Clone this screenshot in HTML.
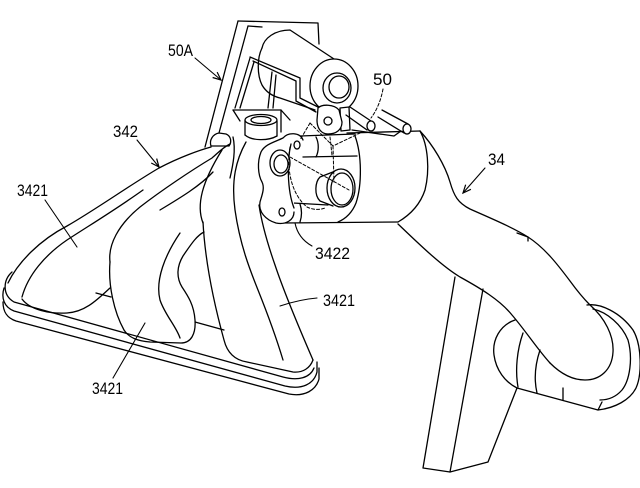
<!DOCTYPE html>
<html><head><meta charset="utf-8"><style>
html,body{margin:0;padding:0;background:#fff;}
svg{display:block;}
text{font-family:"Liberation Sans",sans-serif;font-size:17px;fill:#000;stroke:none;}
</style></head><body>
<svg width="640" height="488" viewBox="0 0 640 488" xmlns="http://www.w3.org/2000/svg">
<defs>
<marker id="ah" markerUnits="userSpaceOnUse" viewBox="-10 -6 12 12" refX="0" refY="0" markerWidth="12" markerHeight="12" orient="auto"><path d="M-8,-3.5 L0,0 L-8,3.5" fill="none" stroke="#000" stroke-width="1.2"/></marker>
</defs>
<rect width="640" height="488" fill="#fff"/>
<g fill="none" stroke="#000" stroke-width="1.3" stroke-linejoin="round" stroke-linecap="round">
<!-- lower bracket plate -->
<path d="M455,277 L423,468 L450,472 L488,462 L517,388"/>
<path d="M483,289 L450,472"/>
<!-- elbow boss -->
<path d="M515,320 C500,325 492,340 494,355 C496,370 505,382 517,388 L598,410 L602,402"/>
<path d="M523,333 C517,350 515,370 518,387"/>
<path d="M540,350 C535,365 534,380 537,393"/>
<path d="M563,388 L563,400"/>
<!-- ring -->
<path d="M587,305 C600,303 620,312 633,330 C642,345 642,375 636,388 C630,400 615,408 598,410"/>
<path d="M593,309 C607,312 622,325 628,340 C633,358 630,380 622,390 C615,398 607,400 600,400"/>
<!-- pipe 34 -->
<path d="M420,131 C433,145 445,165 450,182 C454,196 458,203 470,209 C490,218 512,227 528,237 C545,248 558,265 570,281 C578,292 583,298 590,305 C605,318 614,336 613,352 C612,370 600,380 585,380 C572,380 560,373 550,363"/>
<path d="M398,224 C415,240 440,265 460,277 C480,288 500,300 512,315 C525,330 538,350 550,363"/>
<path d="M517,233 L528,237 L528,241"/>
<!-- housing -->
<path d="M347,133 L420,131"/>
<path d="M420,131 C428,145 430,170 425,190 C420,205 410,215 398,222"/>
<path d="M283,223 L398,222"/>
<path d="M355,136 C362,155 362,185 356,203 C352,213 345,219 338,222"/>
<!-- upper / lower cylinders -->
<path d="M300,136 L355,134"/>
<path d="M303,157 L357,156"/>
<path d="M316,137 C319,143 319,151 316,157"/>
<path d="M293,203 L328,205"/>
<path d="M300,204 C302,210 302,216 300,222"/>
<!-- nozzle -->
<path d="M338,170 L320,177 C315,182 314,195 320,201 L333,206"/>
<ellipse cx="341" cy="188" rx="14" ry="19" fill="#fff"/>
<ellipse cx="342" cy="189" rx="11" ry="16"/>
<!-- turbine flange plate -->
<path fill="#fff" d="M303,140 C300,132 288,132 283,138 C275,142 265,144 261,152 C257,162 258,175 262,182 C265,188 262,195 260,202 C258,212 266,220 276,223 C286,225 294,220 294,212 L294,150 Z" stroke="none"/>
<path d="M303,140 C300,132 288,132 283,138 C275,142 265,144 261,152 C257,162 258,175 262,182 C265,188 262,195 260,202 C258,212 266,220 276,223 C286,225 294,220 294,212"/>
<path d="M291,144 C287,160 287,190 294,208"/>
<ellipse cx="280" cy="163" rx="10" ry="13" fill="#fff"/>
<ellipse cx="281" cy="164" rx="7" ry="9"/>
<ellipse cx="297" cy="145" rx="3" ry="4"/>
<ellipse cx="282" cy="212" rx="3" ry="4"/>
<!-- dashed hidden lines -->
<g stroke-width="1" stroke-dasharray="3,2">
<path d="M383,89 C381,100 377,110 371,118"/>
<path d="M310,123 L333,146 L360,133"/>
<path d="M333,146 L334,182"/>
<path d="M290,157 L349,190"/>
<path d="M310,123 L300,140"/>
<path d="M290,147 C286,170 292,195 307,207 C313,210 320,210 325,208"/>
<path d="M330,137 L332,155"/>
</g>
<!-- plate 50A -->
<path d="M238,21 L318,23 L319,44"/>
<path d="M238,21 L205,147"/>
<path d="M248,26 L219,133"/>
<path d="M248,26 L262,27"/>
<!-- actuator cylinder -->
<path d="M262,48 C264,38 275,30 290,30 L334,59"/>
<path d="M262,48 C257,58 257,75 262,85 C266,92 272,96 280,98 L315,110"/>
<ellipse cx="334" cy="86" rx="24" ry="27" fill="#fff"/>
<ellipse cx="337" cy="88" rx="14" ry="15"/>
<ellipse cx="339" cy="87" rx="10" ry="11"/>
<!-- bracket link -->
<path d="M250,57 L300,78 L300,98 L320,108"/>
<path d="M253,61 L296,81 L296,101 L316,112"/>
<path d="M250,58 L235,108"/>
<path d="M254,62 L240,108"/>
<path d="M272,72 L268,108"/>
<path d="M276,75 L273,108"/>
<path fill="#fff" d="M340,108 L349,107 L350,130 L341,131 Z"/>
<path fill="#fff" d="M318,108 C322,104 334,104 339,110 L342,122 C342,130 336,134 328,134 C321,134 317,128 317,120 Z"/>
<circle cx="328" cy="121" r="4"/>
<!-- pins -->
<path d="M350,107 L371,121"/>
<path d="M346,115 L367,130"/>
<ellipse cx="371" cy="126" rx="4" ry="5" fill="#fff"/>
<path d="M382,110 L408,124"/>
<path d="M378,117 L404,133"/>
<ellipse cx="407" cy="129" rx="4" ry="5" fill="#fff"/>
<path d="M352,130 L394,136 L401,131"/>
<!-- platform & collar -->
<path d="M233,110 L281,110 L290,120"/>
<path d="M233,110 L240,121"/>
<path d="M281,110 L281,132"/>
<path d="M245,120 L245,135"/>
<path d="M277,121 L277,136"/>
<path d="M245,135 C252,141 268,141 277,136"/>
<ellipse cx="261" cy="120" rx="16" ry="5.5" fill="#fff"/>
<ellipse cx="261" cy="120" rx="10" ry="3.5"/>
<path fill="#fff" d="M211,146 C209,140 213,134 219,133 L226,134 C231,136 232,142 229,146 Z"/>
<!-- manifold 342 -->
<path d="M8,283 C18,262 40,240 67,226 C95,210 130,185 159,168 C180,157 200,150 211,147"/>
<path d="M22,297 C28,275 45,255 67,240 C90,225 115,210 143,190"/>
<path d="M160,210 C180,198 200,186 213,172"/>
<path d="M22,299 C30,310 50,314 67,313 C85,312 97,300 110,288"/>
<path d="M110,262 C108,245 118,225 140,207 C162,190 192,170 212,158 C218,153 222,148 230,144"/>
<path d="M110,262 C108,285 114,312 124,330 C129,338 138,341 150,342 L181,343 C191,343 196,334 195,320 C194,305 188,296 182,287 C176,277 177,266 183,256 C190,246 196,236 204,232"/>
<path d="M180,233 C165,255 155,280 160,300 C165,315 176,326 180,338"/>
<path d="M203,222 C205,260 213,300 224,340 C227,352 234,360 247,362 L293,372 C303,373 310,368 313,360"/>
<path d="M203,223 C196,205 202,182 222,150"/>
<path d="M246,142 C236,160 231,180 235,210 C240,245 250,270 258,290 C268,315 277,340 283,360"/>
<path d="M259,205 C262,225 268,245 275,265 C285,295 300,330 313,360"/>
<path d="M233,137 C236,150 233,165 230,178"/>
<!-- flange -->
<path d="M12,272 C3,280 2,295 14,302 L283,377 C298,381 310,378 314,368"/>
<path d="M4,288 C1,298 4,307 14,311 L285,386 C302,390 314,384 317,372 L317,362"/>
<path d="M3,302 C3,312 7,318 16,321 L289,394 C305,397 316,390 319,379 L319,368"/>
<path d="M96,293 L111,297"/>
<path d="M195,322 L224,330"/>
<!-- leaders -->
<g stroke-width="1.1">
<path d="M195,58 L221,80" marker-end="url(#ah)"/>
<path d="M137,140 L159,167" marker-end="url(#ah)"/>
<path d="M485,168 L463,193" marker-end="url(#ah)"/>
<path d="M45,200 L77,247"/>
<path d="M312,246 C303,241 297,233 295,223"/>
<path d="M280,306 C295,301 305,299 317,298"/>
<path d="M113,378 L145,323"/>
</g>
</g>
<text x="168" y="56" textLength="25" lengthAdjust="spacingAndGlyphs">50A</text>
<text x="373" y="85" textLength="19" lengthAdjust="spacingAndGlyphs">50</text>
<text x="113" y="137" textLength="25" lengthAdjust="spacingAndGlyphs">342</text>
<text x="17" y="196" textLength="31" lengthAdjust="spacingAndGlyphs">3421</text>
<text x="488" y="165" textLength="17" lengthAdjust="spacingAndGlyphs">34</text>
<text x="315" y="259" textLength="35" lengthAdjust="spacingAndGlyphs">3422</text>
<text x="323" y="306" textLength="32" lengthAdjust="spacingAndGlyphs">3421</text>
<text x="92" y="394" textLength="31" lengthAdjust="spacingAndGlyphs">3421</text>
</svg>
</body></html>
